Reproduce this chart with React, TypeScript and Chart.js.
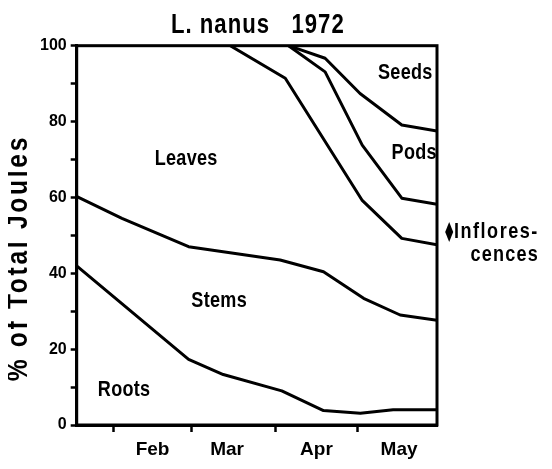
import React, { useEffect, useRef } from "react";
import { Chart, registerables } from "chart.js";

Chart.register(...registerables);

// ---- data (day of year 1972 on x, cumulative % of total joules on y) ----
const rootsDays = [18.6, 59.8, 72.6, 94.2, 109.6, 123.2, 135.3, 151.5];
const rootsPct = [41.9, 17.3, 13.3, 9.0, 3.8, 3.1, 4.0, 4.0];

const stemsDays = [18.6, 35.2, 59.8, 93.6, 109.6, 124.4, 137.9, 151.5];
const stemsPct = [60.2, 54.5, 47.0, 43.5, 40.4, 33.4, 29.0, 27.6];

const leavesDays = [75.2, 95.5, 123.8, 138.5, 151.5];
const leavesPct = [100, 91.4, 59.3, 49.2, 47.5];

const inflDays = [96.7, 110.2, 123.9, 138.5, 151.5];
const inflPct = [100, 93.1, 73.8, 59.8, 58.2];

const podsDays = [96.7, 110.2, 123.1, 138.5, 151.5];
const podsPct = [100, 96.7, 87.4, 79.1, 77.5];

const monthBoundaryDays = [32, 61, 92, 122];
const monthLabelDays = [46.5, 74, 107, 137.5];
const monthLabels = ["Feb", "Mar", "Apr", "May"];
const yLabelStep = 20;

const titleText = "L. nanus   1972";
const yTitleText = "% of Total Joules";

const FAMILY = "'Liberation Sans', Arial, sans-serif";
const SQUEEZE = 0.82;

const toPts = (xs: number[], ys: number[]) => xs.map((x, i) => ({ x, y: ys[i] }));

const lineDs = (label: string, xs: number[], ys: number[]) => ({
  label,
  data: toPts(xs, ys),
  borderColor: "#000",
  borderWidth: 3,
  pointRadius: 0,
  tension: 0,
  fill: false,
  borderJoinStyle: "round" as const,
  borderCapStyle: "round" as const,
});

function squeezedText(
  ctx: CanvasRenderingContext2D,
  text: string,
  x: number,
  y: number,
  size: number,
  align: CanvasTextAlign,
  spacing = 0,
  rotate = 0
) {
  ctx.save();
  ctx.translate(x, y);
  if (rotate) ctx.rotate(rotate);
  ctx.scale(SQUEEZE, 1);
  ctx.font = `bold ${size}px ${FAMILY}`;
  ctx.textAlign = align;
  ctx.textBaseline = "middle";
  (ctx as any).letterSpacing = `${spacing / SQUEEZE}px`;
  ctx.fillText(text, 0, 0);
  ctx.restore();
}

const annotations = {
  id: "annotations",
  afterDatasetsDraw(chart: any) {
    const { ctx, chartArea: ca, scales } = chart;
    const xs = scales.x;
    const ys = scales.y;
    ctx.save();
    // frame
    ctx.strokeStyle = "#000";
    ctx.lineWidth = 3;
    ctx.strokeRect(ca.left, ca.top, ca.right - ca.left, ca.bottom - ca.top);
    ctx.fillStyle = "#000";

    // title
    squeezedText(ctx, titleText, (ca.left + ca.right) / 2 + 1, ca.top - 20, 27, "center", 1);

    // region labels
    const lbl = (t: string, d: number, p: number) =>
      squeezedText(ctx, t, xs.getPixelForValue(d), ys.getPixelForValue(p), 22, "center", 0.3);
    lbl("Leaves", 58.9, 70.2);
    lbl("Seeds", 139.8, 92.7);
    lbl("Pods", 143.1, 71.8);
    lbl("Stems", 71.1, 32.8);
    lbl("Roots", 36.0, 9.2);

    // inflorescences label outside the frame
    squeezedText(ctx, "Inflores-", xs.getPixelForValue(157.8), ys.getPixelForValue(51.0), 22, "left", 1.5);
    squeezedText(ctx, "cences", xs.getPixelForValue(176.5), ys.getPixelForValue(44.8), 22, "center", 1.2);

    const dx = xs.getPixelForValue(156);
    const dy = ys.getPixelForValue(50.9);
    ctx.beginPath();
    ctx.moveTo(dx, dy - 10);
    ctx.lineTo(dx + 4, dy);
    ctx.lineTo(dx, dy + 10);
    ctx.lineTo(dx - 4, dy);
    ctx.closePath();
    ctx.fill();

    // y axis title
    squeezedText(ctx, yTitleText, 10.5, ys.getPixelForValue(44), 30, "center", 2.7, -Math.PI / 2);
    ctx.restore();
  },
};

export default function App() {
  const ref = useRef<HTMLCanvasElement>(null);
  useEffect(() => {
    if (!ref.current) return;
    const chart = new Chart(ref.current, {
      type: "line",
      data: {
        datasets: [
          lineDs("Roots", rootsDays, rootsPct),
          lineDs("Stems", stemsDays, stemsPct),
          lineDs("Leaves", leavesDays, leavesPct),
          lineDs("Inflorescences", inflDays, inflPct),
          lineDs("Pods", podsDays, podsPct),
        ],
      },
      options: {
        animation: false,
        responsive: true,
        maintainAspectRatio: false,
        layout: { padding: { left: 0, right: 107, top: 37.7, bottom: 0 } },
        plugins: { legend: { display: false }, tooltip: { enabled: false }, title: { display: false } },
        scales: {
          x: {
            type: "linear",
            min: 18.5,
            max: 151.5,
            afterBuildTicks: (s: any) => {
              s.ticks = [...monthBoundaryDays, ...monthLabelDays]
                .sort((a, b) => a - b)
                .map((v) => ({ value: v }));
            },
            afterFit: (s: any) => {
              s.height = 36;
            },
            ticks: {
              autoSkip: false,
              maxRotation: 0,
              color: "#000",
              padding: 6,
              font: { family: FAMILY, size: 19, weight: "bold" },
              callback: (v: any) => {
                const i = monthLabelDays.indexOf(Number(v));
                return i >= 0 ? monthLabels[i] : "";
              },
            },
            grid: {
              drawOnChartArea: false,
              tickLength: 7,
              tickWidth: 2.5,
              tickColor: (c: any) =>
                c.tick && monthBoundaryDays.includes(c.tick.value) ? "#000" : "rgba(0,0,0,0)",
            },
            border: { color: "#000", width: 3 },
          },
          y: {
            min: 0,
            max: 100,
            afterFit: (s: any) => {
              s.width = 68.7;
            },
            ticks: {
              stepSize: 10,
              color: "#000",
              padding: 4,
              font: { family: FAMILY, size: 16, weight: "bold" },
              callback: (v: any) => (Number(v) % yLabelStep === 0 ? String(v) : ""),
            },
            grid: {
              drawOnChartArea: false,
              tickLength: 6,
              tickWidth: 2.5,
              tickColor: "#000",
            },
            border: { color: "#000", width: 3 },
          },
        },
      },
      plugins: [annotations],
    });
    return () => chart.destroy();
  }, []);
  return (
    <div style={{ width: 536, height: 453, position: "relative" }}>
      <canvas ref={ref} />
    </div>
  );
}
